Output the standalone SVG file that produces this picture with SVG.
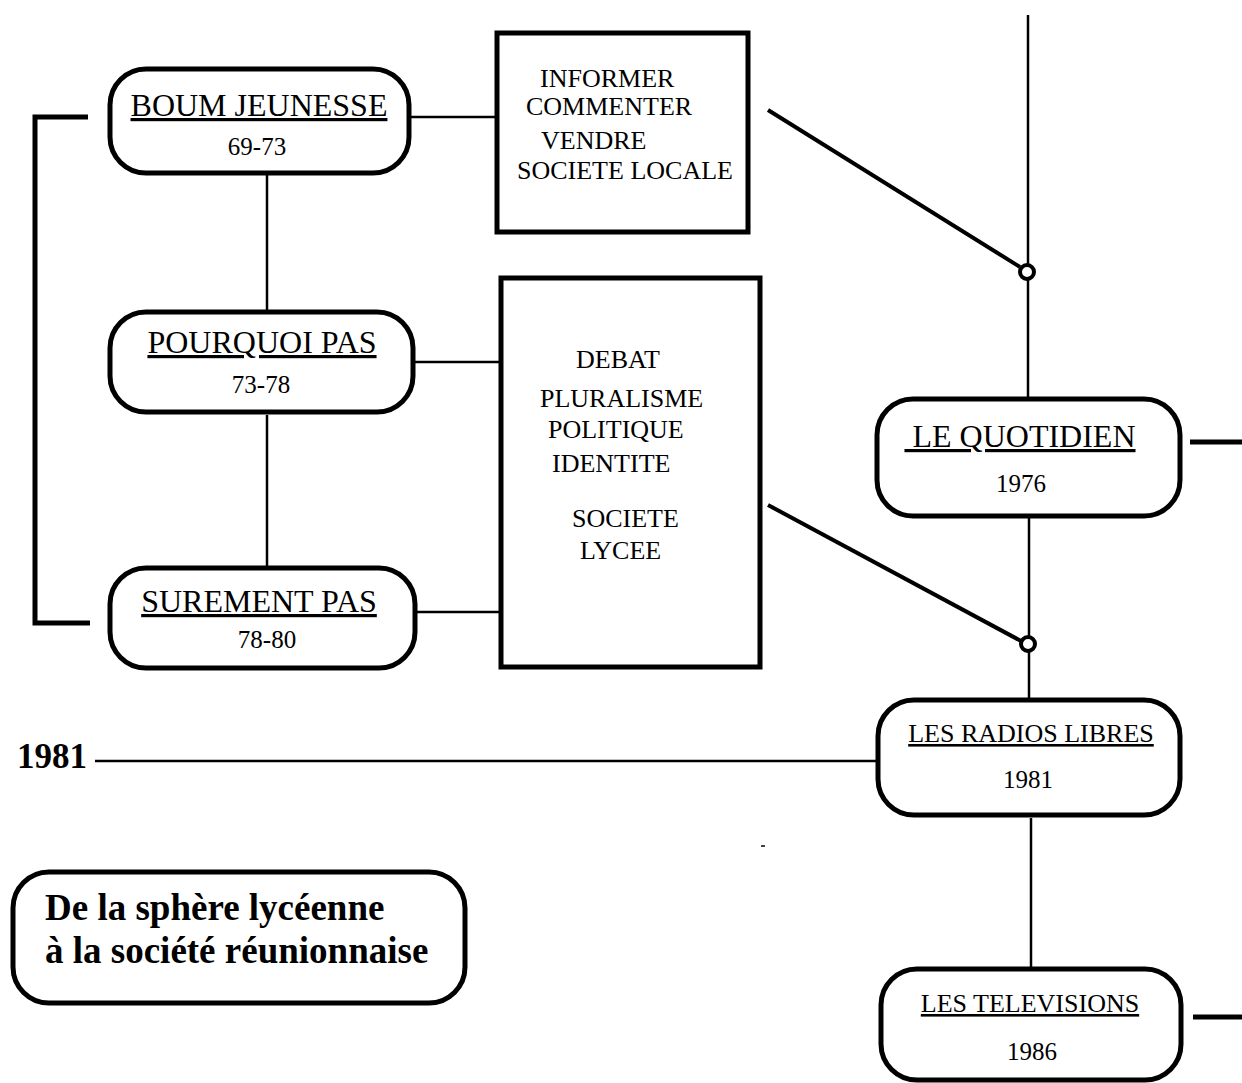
<svg xmlns="http://www.w3.org/2000/svg" width="1242" height="1083" viewBox="0 0 1242 1083">
<style>
  .box{fill:#fff;stroke:#000;stroke-width:5}
  .ln{stroke:#000;fill:none;stroke-width:2.5}
  .thk{stroke:#000;fill:none;stroke-width:5}
  .dg{stroke:#000;fill:none;stroke-width:4}
  .t{font-family:"Liberation Serif","Times New Roman",serif;fill:#000}
  .ttl{font-size:32px;text-decoration:underline;text-anchor:middle}
  .ttm{font-size:26px;text-decoration:underline;text-anchor:middle}
  .dt{font-size:25px;text-anchor:middle}
  .bx{font-size:26px}
  .bold{font-weight:bold}
</style>
<rect width="1242" height="1083" fill="#fff"/>
<g id="connectors">
  <polyline class="thk" points="88,117 35,117 35,623 90,623"/>
  <line class="ln" x1="409" y1="117" x2="497" y2="117"/>
  <line class="ln" x1="413" y1="362" x2="512" y2="362"/>
  <line class="ln" x1="415" y1="612" x2="500" y2="612"/>
  <line class="ln" x1="267" y1="173" x2="267" y2="310"/>
  <line class="ln" x1="267" y1="415" x2="267" y2="582"/>
  <line class="ln" x1="1028" y1="15" x2="1028" y2="265"/>
  <line class="ln" x1="1028" y1="279" x2="1028" y2="399"/>
  <line class="ln" x1="1029" y1="490" x2="1029" y2="637"/>
  <line class="ln" x1="1029" y1="651" x2="1029" y2="700"/>
  <line class="ln" x1="1031" y1="818" x2="1031" y2="968"/>
  <line class="dg" x1="768" y1="110" x2="1020" y2="267"/>
  <line class="dg" x1="768" y1="505" x2="1021" y2="641"/>
  <circle cx="1027" cy="272" r="7" fill="#fff" stroke="#000" stroke-width="4"/>
  <circle cx="1028" cy="644" r="7" fill="#fff" stroke="#000" stroke-width="4"/>
  <line class="ln" stroke-width="3" x1="95" y1="761" x2="876" y2="761"/>
  <line class="thk" x1="1190" y1="442" x2="1242" y2="442"/>
  <line class="thk" x1="1193" y1="1017" x2="1242" y2="1017"/>
  <line stroke="#000" stroke-width="3" stroke-linecap="round" x1="649" y1="301" x2="651" y2="304"/>
  <line stroke="#000" stroke-width="1.5" x1="761" y1="846" x2="765" y2="846"/>
</g>
<g id="boum-jeunesse">
  <rect class="box" x="110" y="69" width="299" height="104" rx="36"/>
  <text class="t ttl" x="259" y="116">BOUM JEUNESSE</text>
  <text class="t dt" x="257" y="155">69-73</text>
</g>
<g id="pourquoi-pas">
  <rect class="box" x="110" y="312" width="303" height="100" rx="36"/>
  <text class="t ttl" x="262" y="353">POURQUOI PAS</text>
  <text class="t dt" x="261" y="393">73-78</text>
</g>
<g id="surement-pas">
  <rect class="box" x="110" y="568" width="305" height="100" rx="36"/>
  <text class="t ttl" x="259" y="612">SUREMENT PAS</text>
  <text class="t dt" x="267" y="648">78-80</text>
</g>
<g id="informer">
  <rect class="box" x="497" y="33" width="251" height="199"/>
  <text class="t bx" x="540" y="87">INFORMER</text>
  <text class="t bx" x="526" y="115">COMMENTER</text>
  <text class="t bx" x="541" y="149">VENDRE</text>
  <text class="t bx" x="517" y="179">SOCIETE LOCALE</text>
</g>
<g id="debat">
  <rect class="box" x="501" y="278" width="259" height="389"/>
  <text class="t bx" x="576" y="368">DEBAT</text>
  <text class="t bx" x="540" y="407">PLURALISME</text>
  <text class="t bx" x="548" y="438">POLITIQUE</text>
  <text class="t bx" x="552" y="472">IDENTITE</text>
  <text class="t bx" x="572" y="527">SOCIETE</text>
  <text class="t bx" x="580" y="559">LYCEE</text>
</g>
<g id="le-quotidien">
  <rect class="box" x="877" y="399" width="303" height="117" rx="36"/>
  <text class="t ttl" x="1020" y="447">&#160;LE QUOTIDIEN</text>
  <text class="t dt" x="1021" y="492">1976</text>
</g>
<g id="radios-libres">
  <rect class="box" x="878" y="700" width="302" height="115" rx="36"/>
  <text class="t ttm" x="1031" y="742">LES RADIOS LIBRES</text>
  <text class="t dt" x="1028" y="788">1981</text>
</g>
<g id="televisions">
  <rect class="box" x="881" y="969" width="300" height="111" rx="36"/>
  <text class="t ttm" x="1030" y="1012">LES TELEVISIONS</text>
  <text class="t dt" x="1032" y="1060">1986</text>
</g>
<g id="year-1981">
  <text class="t bold" font-size="35" x="17" y="768">1981</text>
</g>
<g id="title">
  <rect class="box" x="13" y="872" width="452" height="131" rx="36"/>
  <text class="t bold" font-size="37" x="45" y="920">De la sphère lycéenne</text>
  <text class="t bold" font-size="37" x="45" y="963">à la société réunionnaise</text>
</g>
</svg>
